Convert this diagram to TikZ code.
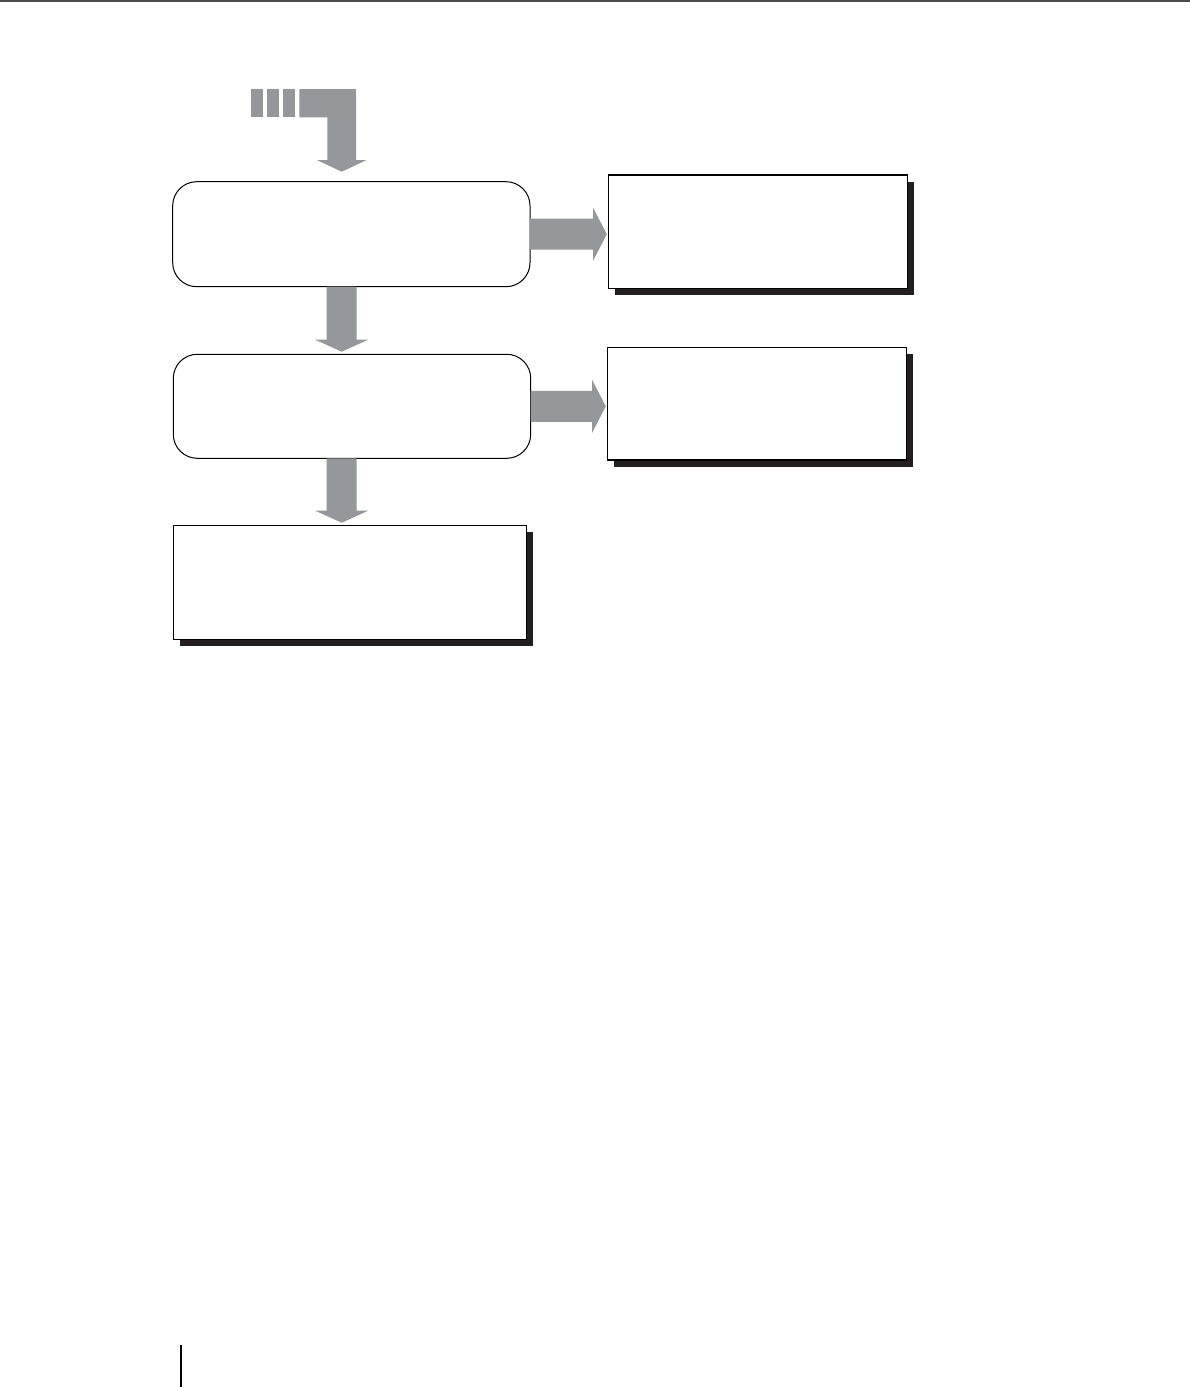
\documentclass[tikz,border=0pt]{standalone}
\usetikzlibrary{calc,shadows}
\definecolor{arrowgray}{RGB}{150,151,155}
\definecolor{rulegray}{RGB}{77,77,77}
\definecolor{shadowc}{RGB}{35,31,32}
\tikzset{
  rbox/.style={draw=black, line width=1pt, fill=white, rounded corners=24pt,
    inner sep=0pt, outer sep=0pt},
  sbox/.style={draw=black, line width=1.3pt, fill=white, inner sep=0pt, outer sep=0pt,
    drop shadow={shadow xshift=6.5pt, shadow yshift=-6.5pt, opacity=1, fill=shadowc}},
  fatright/.style={fill=arrowgray, to path={let \p1=(\tikztostart), \p2=(\tikztotarget) in
    (\x1,\y1+15.5pt) -- (\x2-15.2pt,\y1+15.5pt) -- (\x2-15.2pt,\y1+26.5pt) -- (\x2-1.5pt,\y1)
    -- (\x2-15.2pt,\y1-26.5pt) -- (\x2-15.2pt,\y1-15.5pt) -- (\x1,\y1-15.5pt) -- cycle}},
  fatdown/.style={fill=arrowgray, to path={let \p1=(\tikztostart), \p2=(\tikztotarget) in
    (\x1-15pt,\y1) -- (\x1-15pt,\y2+14.6pt) -- (\x1-26.5pt,\y2+14.6pt) -- (\x1,\y2+2.6pt)
    -- (\x1+26.5pt,\y2+14.6pt) -- (\x1+15pt,\y2+14.6pt) -- (\x1+15pt,\y1) -- cycle}}
}
\begin{document}
\begin{tikzpicture}[x=1pt,y=-1pt]
\useasboundingbox (0,0) rectangle (1190,1387);
\fill[white] (0,0) rectangle (1190,1387);
% page rule
\fill[rulegray] (0,0) rectangle (1190,2.2);
\fill[black] (179.5,1345) rectangle (181.7,1387);
% boxes
\node[rbox, minimum width=357.3pt, minimum height=105pt] (b1) at (351.35,234.2) {};
\node[rbox, minimum width=357.4pt, minimum height=104pt] (b2) at (352,406.3) {};
\node[sbox, minimum width=353.4pt, minimum height=114pt] (b3) at (350,582.3) {};
\node[sbox, minimum width=299pt, minimum height=113.3pt] (r1) at (757.8,231.65) {};
\node[sbox, minimum width=299.4pt, minimum height=112.7pt] (r2) at (757,403.65) {};
% incoming arrow from previous step
\coordinate (inc) at (356,89);
\fill[arrowgray] (251,89) rectangle (262.7,117.3);
\fill[arrowgray] (267.3,89) rectangle (278.7,117.3);
\fill[arrowgray] (283.3,89) rectangle (294.7,117.3);
\fill[arrowgray] (299.3,89) -- (inc) -- (356,160) -- (366.7,160) -- (341.7,171.7)
  -- (316.7,160) -- (327.3,160) -- (327.3,117.3) -- (299.3,117.3) -- cycle;
% connectors
\path[fatdown] ([xshift=-9.65pt]b1.south) to (b2.north);
\path[fatdown] ([xshift=-10.3pt]b2.south) to (b3.north);
\path[fatright] (b1.east) to (r1.west);
\path[fatright] (b2.east) to (r2.west);
\end{tikzpicture}
\end{document}
